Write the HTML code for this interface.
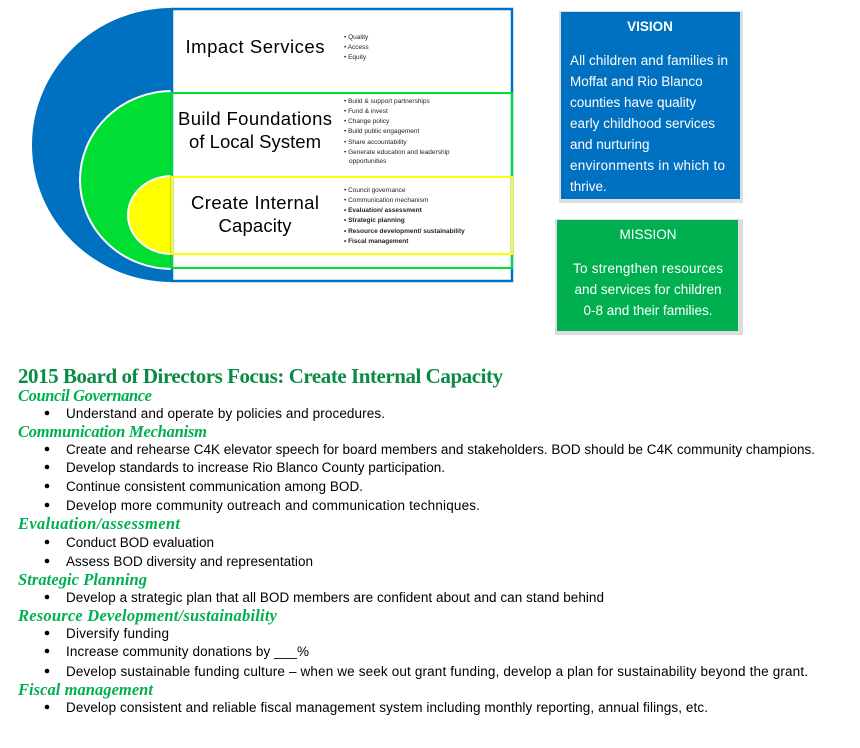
<!DOCTYPE html>
<html><head><meta charset="utf-8"><style>
html,body{margin:0;padding:0;background:#fff;width:860px;height:748px;overflow:hidden}
svg{display:block}
text{font-family:"Liberation Sans",sans-serif}
.s text{font-size:6.5px;fill:#222}
text.b{font-weight:bold}
.t text{font-size:13.5px;fill:#000}
.h text,text.h{font-family:"Liberation Serif",serif;font-style:italic;font-weight:bold;font-size:16.5px;fill:#00b050}
text.ti{font-family:"Liberation Serif",serif;font-weight:bold;font-size:21px;fill:#0b8a45}
.w text,text.w{fill:#fff;font-size:13.5px}
</style></head><body>
<svg width="860" height="748" viewBox="0 0 860 748">
<path d="M172,8 A140,137 0 0 0 172,282 Z" fill="#0070c0"/>
<path d="M172,91 A92,89 0 0 0 172,269 Z" fill="#00dd33" stroke="#fff" stroke-width="2"/>
<path d="M172,176 A44,39 0 0 0 172,254 Z" fill="#ffff00" stroke="#fff" stroke-width="2"/>
<rect x="172" y="9" width="340" height="272" fill="#fff"/>
<rect x="172" y="9" width="340" height="272" fill="none" stroke="#0070c0" stroke-width="2.5"/>
<rect x="172" y="93" width="340" height="175" fill="none" stroke="#00dd33" stroke-width="2"/>
<rect x="172" y="177" width="340" height="77" fill="none" stroke="#ffff00" stroke-width="2"/>
<g font-size="18.5" fill="#000" text-anchor="middle">
<text x="255" y="53" textLength="139">Impact Services</text>
<text x="255" y="125" textLength="154">Build Foundations</text>
<text x="255" y="148" textLength="132">of Local System</text>
<text x="255" y="209" textLength="128">Create Internal</text>
<text x="255" y="232" textLength="73">Capacity</text>
</g>
<g class="s">
<text x="344" y="39">• Quality</text>
<text x="344" y="49">• Access</text>
<text x="344" y="59">• Equity</text>
<text x="344" y="103">• Build &amp; support partnerships</text>
<text x="344" y="113">• Fund &amp; invest</text>
<text x="344" y="123">• Change policy</text>
<text x="344" y="133">• Build public engagement</text>
<text x="344" y="144">• Share accountability</text>
<text x="344" y="154">• Generate education and leadership</text>
<text x="349" y="163">opportunities</text>
<text x="344" y="192">• Council governance</text>
<text x="344" y="202">• Communication mechanism</text>
<text x="344" y="212" class="b">• Evaluation/ assessment</text>
<text x="344" y="222" class="b">• Strategic planning</text>
<text x="344" y="233" class="b">• Resource development/ sustainability</text>
<text x="344" y="243" class="b">• Fiscal management</text>
</g>
<rect x="559" y="11" width="184" height="192" fill="#ddd"/>
<rect x="561" y="12" width="179" height="187" fill="#0070c0"/>
<text x="650" y="31" class="w b" text-anchor="middle">VISION</text>
<g class="w">
<text x="570" y="65" textLength="158">All children and families in</text>
<text x="570" y="86">Moffat and Rio Blanco</text>
<text x="570" y="107">counties have quality</text>
<text x="570" y="128" textLength="145">early childhood services</text>
<text x="570" y="149">and nurturing</text>
<text x="570" y="170" textLength="155">environments in which to</text>
<text x="570" y="191">thrive.</text>
</g>
<rect x="555" y="219" width="188" height="116" fill="#ddd"/>
<rect x="557" y="220" width="181" height="111" fill="#00b050"/>
<g class="w" text-anchor="middle">
<text x="648" y="239">MISSION</text>
<text x="648" y="273" textLength="150">To strengthen resources</text>
<text x="648" y="294" textLength="147">and services for children</text>
<text x="648" y="315">0-8 and their families.</text>
</g>
<text x="18" y="383" class="ti" textLength="485">2015 Board of Directors Focus: Create Internal Capacity</text>
<g class="h">
<text x="18" y="401" textLength="134">Council Governance</text>
<text x="18" y="437" textLength="189">Communication Mechanism</text>
<text x="18" y="529" textLength="162">Evaluation/assessment</text>
<text x="18" y="585" textLength="129">Strategic Planning</text>
<text x="18" y="621" textLength="259">Resource Development/sustainability</text>
<text x="18" y="695" textLength="135">Fiscal management</text>
</g>
<g class="t">
<text x="66" y="418" textLength="319">Understand and operate by policies and procedures.</text>
<text x="66" y="454" textLength="749">Create and rehearse C4K elevator speech for board members and stakeholders. BOD should be C4K community champions.</text>
<text x="66" y="472" textLength="379">Develop standards to increase Rio Blanco County participation.</text>
<text x="66" y="491" textLength="297">Continue consistent communication among BOD.</text>
<text x="66" y="510" textLength="414">Develop more community outreach and communication techniques.</text>
<text x="66" y="547" textLength="148">Conduct BOD evaluation</text>
<text x="66" y="566" textLength="247">Assess BOD diversity and representation</text>
<text x="66" y="602" textLength="538">Develop a strategic plan that all BOD members are confident about and can stand behind</text>
<text x="66" y="638" textLength="103">Diversify funding</text>
<text x="66" y="656" textLength="243">Increase community donations by ___%</text>
<text x="66" y="676" textLength="742">Develop sustainable funding culture – when we seek out grant funding, develop a plan for sustainability beyond the grant.</text>
<text x="66" y="712" textLength="642">Develop consistent and reliable fiscal management system including monthly reporting, annual filings, etc.</text>
</g>
<g fill="#000">
<circle cx="47" cy="413" r="2.3"/><circle cx="47" cy="449" r="2.3"/><circle cx="47" cy="467" r="2.3"/>
<circle cx="47" cy="486" r="2.3"/><circle cx="47" cy="505" r="2.3"/><circle cx="47" cy="542" r="2.3"/>
<circle cx="47" cy="561" r="2.3"/><circle cx="47" cy="597" r="2.3"/><circle cx="47" cy="633" r="2.3"/>
<circle cx="47" cy="651" r="2.3"/><circle cx="47" cy="671" r="2.3"/><circle cx="47" cy="707" r="2.3"/>
</g>
</svg>
</body></html>
